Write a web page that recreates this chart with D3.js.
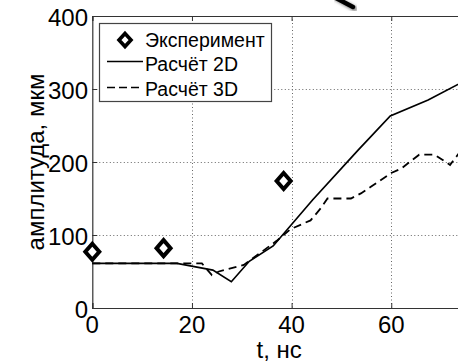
<!DOCTYPE html>
<html>
<head>
<meta charset="utf-8">
<script src="https://cdn.jsdelivr.net/npm/d3@7"></script>
<style>
  html, body { margin: 0; padding: 0; background: #fff; }
  svg { display: block; }
  text { font-family: "Liberation Sans", Arial, Helvetica, sans-serif; fill: #000; }
</style>
</head>
<body>
<div id="chart"></div>
<script>
// Measured amplitude (diamonds)
const tExp   = [0, 14.3, 38.4];
const ampExp = [77, 82, 174];

// 2D simulation (solid line)
const t2D   = [0, 17, 24.2, 27.9, 31.5, 36.3, 44.2, 53.3, 59.8, 67.4, 75];
const amp2D = [61, 61, 52, 36, 64, 85, 148, 216, 263, 285, 312];

// 3D simulation (dashed line)
const t3D   = [0, 17, 22, 24, 25.4, 30.4, 31.4, 37, 39.8, 43.8, 45.9, 47.2, 51.9, 53.9, 55.9, 60, 62, 65.6, 68.7, 71.8, 73.6, 75];
const amp3D = [61, 61, 61, 45, 50, 59, 64, 92, 108, 120, 137, 150, 150, 157, 166, 185, 191, 210, 210, 196, 212, 220];

// Axis ticks and labels
const xTicks = [0, 20, 40, 60];
const yTicks = [0, 100, 200, 300, 400];
const xLabel = "t, нс";
const yLabel = "амплитуда, мкм";
const legendLabels = ["Эксперимент", "Расчёт 2D", "Расчёт 3D"];

const W = 458, H = 362;
const plotL = 92.3, plotR = 466, plotT = 16, plotB = 308;

const svg = d3.select("#chart").append("svg")
  .attr("width", W).attr("height", H);

const x = d3.scaleLinear().domain([0, 75]).range([plotL, plotR]);
const y = d3.scaleLinear().domain([0, 400]).range([plotB, plotT]);

// Dotted grid
const grid = svg.append("g").attr("stroke", "#666").attr("stroke-width", 1)
  .attr("stroke-dasharray", "1,2.5");
grid.selectAll("line.gx").data(xTicks.filter(d => d > 0)).join("line")
  .attr("x1", d => Math.round(x(d)) + 0.5).attr("x2", d => Math.round(x(d)) + 0.5)
  .attr("y1", plotT).attr("y2", plotB);
grid.selectAll("line.gy").data(yTicks.filter(d => d > 0 && d < 400)).join("line")
  .attr("y1", d => Math.round(y(d)) + 0.5).attr("y2", d => Math.round(y(d)) + 0.5)
  .attr("x1", plotL).attr("x2", plotR);

// Axes with inward ticks, no labels from the generators
const tickLen = 5;
const axB = d3.axisBottom(x).tickValues(xTicks).tickSize(-tickLen).tickFormat("");
const axT = d3.axisTop(x).tickValues(xTicks).tickSize(-tickLen).tickFormat("");
const axL = d3.axisLeft(y).tickValues(yTicks).tickSize(-tickLen).tickFormat("");
[[axB, `translate(0,${plotB})`], [axT, `translate(0,${plotT})`], [axL, `translate(${plotL},0)`]]
  .forEach(([ax, tr]) => {
    const g = svg.append("g").attr("transform", tr).call(ax);
    g.select(".domain").attr("stroke", "#333").attr("stroke-width", 1.2);
    g.selectAll(".tick line").attr("stroke", "#333");
  });

// Tick labels
svg.append("g").selectAll("text").data(xTicks).join("text")
  .attr("x", d => x(d)).attr("y", 333)
  .attr("text-anchor", "middle").attr("font-size", 24)
  .text(d => d);
svg.append("g").selectAll("text").data(yTicks).join("text")
  .attr("x", 88).attr("y", d => y(d) + 9.5)
  .attr("text-anchor", "end").attr("font-size", 24)
  .text(d => d);

// Axis titles
svg.append("text").attr("x", (plotL + plotR) / 2).attr("y", 358)
  .attr("text-anchor", "middle").attr("font-size", 24).text(xLabel);
svg.append("text")
  .attr("transform", `translate(44,${(plotT + plotB) / 2}) rotate(-90)`)
  .attr("text-anchor", "middle").attr("font-size", 24).text(yLabel);

// Curves
const line = d3.line().x(d => x(d[0])).y(d => y(d[1]));
svg.append("path").datum(d3.zip(t3D, amp3D))
  .attr("d", line).attr("fill", "none").attr("stroke", "#000")
  .attr("stroke-width", 1.8).attr("stroke-dasharray", "8,5");
svg.append("path").datum(d3.zip(t2D, amp2D))
  .attr("d", line).attr("fill", "none").attr("stroke", "#000")
  .attr("stroke-width", 1.7);

// Diamond markers
const diamond = (hw, hh) => `M0,${-hh}L${hw},0L0,${hh}L${-hw},0Z`;
svg.append("g").selectAll("path").data(d3.zip(tExp, ampExp)).join("path")
  .attr("transform", d => `translate(${x(d[0])},${y(d[1])})`)
  .attr("d", diamond(7, 8)).attr("fill", "#fff").attr("stroke", "#000")
  .attr("stroke-width", 4);

// Legend
const lg = svg.append("g");
lg.append("rect").attr("x", 99.5).attr("y", 23.5).attr("width", 172).attr("height", 78)
  .attr("fill", "#fff").attr("stroke", "#444").attr("stroke-width", 1.2);
const rowY = [40, 64, 88.5];
lg.append("path").attr("transform", `translate(125,${rowY[0]})`)
  .attr("d", diamond(6, 6.5)).attr("fill", "#fff").attr("stroke", "#000").attr("stroke-width", 3.6);
lg.append("line").attr("x1", 107).attr("x2", 143).attr("y1", rowY[1] - 2.5).attr("y2", rowY[1] - 2.5)
  .attr("stroke", "#000").attr("stroke-width", 1.5);
lg.append("line").attr("x1", 107).attr("x2", 143).attr("y1", rowY[2] - 1).attr("y2", rowY[2] - 1)
  .attr("stroke", "#000").attr("stroke-width", 1.5).attr("stroke-dasharray", "8,4");
lg.selectAll("text").data(legendLabels).join("text")
  .attr("x", 145).attr("y", (d, i) => rowY[i] + 7)
  .attr("font-size", 19.5).text(d => d);

// Pointer stroke at the top edge, with its soft shadow
const defs = svg.append("defs");
defs.append("filter").attr("id", "soft").append("feGaussianBlur").attr("stdDeviation", 1.5);
svg.append("line").attr("x1", 336).attr("y1", -2).attr("x2", 355).attr("y2", 9)
  .attr("stroke", "#888").attr("stroke-width", 5).attr("stroke-linecap", "round")
  .attr("filter", "url(#soft)");
svg.append("line").attr("x1", 334).attr("y1", -3).attr("x2", 353).attr("y2", 7)
  .attr("stroke", "#000").attr("stroke-width", 4.5).attr("stroke-linecap", "round");
</script>
</body>
</html>
